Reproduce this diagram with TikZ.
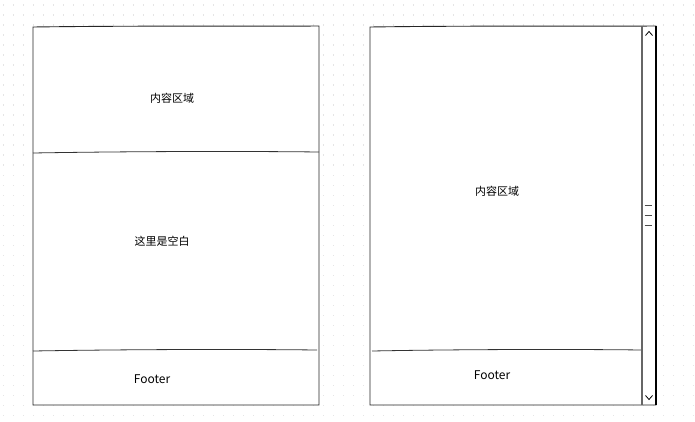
\documentclass[tikz,border=0pt]{standalone}
\usepackage{fontspec}
\newfontfamily\cjk{Noto Sans CJK SC}
\begin{document}
\begin{tikzpicture}[x=1pt,y=-1pt,
  frame/.style={draw=black!85, line width=0.9pt},
  divider/.style={draw=black!80, line width=0.8pt},
  lbl/.style={font=\cjk\fontsize{11}{13}\selectfont, inner sep=0pt},
  ftr/.style={font=\cjk\fontsize{12}{14}\selectfont, inner sep=0pt}]
\useasboundingbox (0,0) rectangle (695,422);
\fill[white] (0,0) rectangle (695,422);
\foreach \i in {0,...,69} {\foreach \j in {0,...,41} {
  \fill[black!10] (2.5+10*\i,4.5+10*\j) rectangle ++(1,1.6);
}}
% left panel
\fill[white] (33,26) rectangle (319,405);
\draw[frame] (33,27) .. controls (150,25.5) and (250,26.5) .. (319,26) -- (319,405) -- (33,405) -- cycle;
\draw[divider] (33,153) .. controls (120,151.5) and (230,151) .. (319,152);
\draw[divider] (33,351) .. controls (120,349.5) and (230,349) .. (317,350);
\node[lbl] (l1) at (172,98) {内容区域};
\node[lbl] (l2) at (162,241) {这里是空白};
\node[ftr] (l3) at (152,379) {Footer};
% right panel
\fill[white] (370,26) rectangle (656,405);
\draw[frame] (370,27) .. controls (480,25.5) and (580,26.5) .. (656,26) -- (656,405) -- (370,405) -- cycle;
\draw[divider] (372,351) .. controls (450,349.5) and (560,349) .. (642,350);
\draw[draw=black!60, line width=1.3pt] (642,26) -- (642,405);
\draw[draw=black, line width=1.6pt] (656,26) -- (656,405);
\draw[black, line width=0.8pt] (645.5,35.5) -- (649,31.5) -- (652.5,35.5);
\draw[black, line width=0.8pt] (645.5,395.5) -- (649,399.5) -- (652.5,395.5);
\foreach \yy in {205,215,225} {\draw[black!70, line width=0.9pt] (644.5,\yy) -- (652,\yy);}
\node[lbl] (r1) at (497,191) {内容区域};
\node[ftr] (r2) at (492,375) {Footer};
\end{tikzpicture}
\end{document}
